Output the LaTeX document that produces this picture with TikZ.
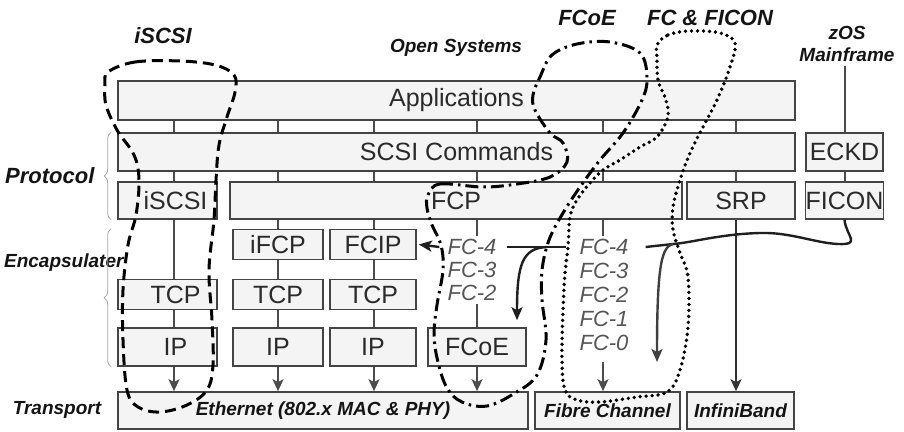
\documentclass[tikz,border=0pt]{standalone}
\usepackage{fontspec}
\setmainfont{Liberation Sans}
\usetikzlibrary{arrows.meta,calc,decorations.pathreplacing}
\definecolor{boxfill}{HTML}{F4F4F4}
\definecolor{boxline}{HTML}{444444}
\definecolor{boxtext}{HTML}{2A2A2A}
\definecolor{fcgray}{HTML}{555555}
\definecolor{linkgray}{HTML}{4C4C4C}

\begin{document}
\begin{tikzpicture}[x=1pt,y=-1pt,
    layer/.style={draw=boxline,fill=boxfill,line width=1.6pt,inner sep=0pt,text=boxtext,font=\fontsize{25}{28}\selectfont},
    tag/.style={font=\bfseries\itshape\fontsize{19}{22}\selectfont,text=black!92},
    bigtag/.style={tag,font=\bfseries\itshape\fontsize{22}{25}\selectfont},
    fclabel/.style={font=\itshape\fontsize{22}{24}\selectfont,text=fcgray,inner sep=3pt},
    tick/.style={draw=linkgray,line width=2pt},
    down/.style={tick,-{Stealth[length=12pt,width=11pt,inset=3pt]}},
    flow/.style={draw=black!88,line width=2.4pt},
    flowtip/.style={flow,-{Stealth[length=13pt,width=11pt,inset=3pt]}},
    sidebrace/.style={draw=gray!70,line width=0.8pt,decorate,decoration={brace,amplitude=7pt}},
    loop/.style={draw=black,line width=3pt}
  ]
  \useasboundingbox (0,0) rectangle (904,431);

  % columns
  \coordinate (c1) at (174,0);
  \coordinate (c2) at (278,0);
  \coordinate (c3) at (374,0);
  \coordinate (c4) at (477,0);
  \coordinate (c5) at (603,0);
  \coordinate (c6) at (736,0);
  \coordinate (ce) at (845,0);

  % layers
  \node[layer,minimum width=677,minimum height=39] (apps) at (456.5,100.5) {Applications};
  \node[layer,minimum width=677,minimum height=38] (scsi) at (456.5,152) {SCSI Commands};
  \node[layer,minimum width=99,minimum height=37] (iscsi) at (167.5,200.5) {\hspace*{16pt}iSCSI};
  \node[layer,minimum width=452,minimum height=37] (fcp) at (456,200.5) {FCP};
  \node[layer,minimum width=108,minimum height=37] (srp) at (741,200.5) {SRP};
  \node[layer,minimum width=77,minimum height=38] (eckd) at (844.5,152) {ECKD};
  \node[layer,minimum width=77,minimum height=37] (ficon) at (844.5,200.5) {FICON};

  \node[layer,minimum width=90,minimum height=30] (ifcp) at (278,244.5) {iFCP};
  \node[layer,minimum width=86,minimum height=30] (fcip) at (373,244.5) {FCIP};
  \node[layer,minimum width=99,minimum height=30] (tcp1) at (167.5,294.5) {\hspace*{16pt}TCP};
  \node[layer,minimum width=90,minimum height=30] (tcp2) at (278,294.5) {TCP};
  \node[layer,minimum width=86,minimum height=30] (tcp3) at (373,294.5) {TCP};
  \node[layer,minimum width=99,minimum height=38] (ip1) at (167.5,347) {\hspace*{16pt}IP};
  \node[layer,minimum width=90,minimum height=38] (ip2) at (278,347) {IP};
  \node[layer,minimum width=86,minimum height=38] (ip3) at (373,347) {IP};
  \node[layer,minimum width=98,minimum height=38] (fcoe) at (477,347) {FCoE};

  \node[layer,tag,minimum width=410,minimum height=37] (eth) at (323,410.5) {Ethernet (802.x MAC \& PHY)};
  \node[layer,tag,minimum width=145,minimum height=37] (fibre) at (607.5,410.5) {Fibre Channel};
  \node[layer,tag,minimum width=107,minimum height=37] (infini) at (740.5,410.5) {InfiniBand};

  % FC levels
  \node[fclabel] (fcl4) at (472,247) {FC-4};
  \node[fclabel] (fcl3) at (472,270) {FC-3};
  \node[fclabel] (fcl2) at (472,293) {FC-2};
  \node[fclabel] (fcr4) at (604,247) {FC-4};
  \node[fclabel] (fcr3) at (604,271) {FC-3};
  \node[fclabel] (fcr2) at (604,295) {FC-2};
  \node[fclabel] (fcr1) at (604,319) {FC-1};
  \node[fclabel] (fcr0) at (604,343) {FC-0};

  % side and top tags
  \node[bigtag,anchor=east] (protocol) at (98,176) {Protocol};
  \node[tag,anchor=east] (encap) at (127,263) {Encapsulater};
  \node[tag] (transport) at (57,410) {Transport};
  \node[bigtag] (tiscsi) at (163,36) {iSCSI};
  \node[tag] (open) at (456,48) {Open Systems};
  \node[bigtag] (tfcoe) at (587,18) {FCoE};
  \node[bigtag] (tfc) at (710,18) {FC \& FICON};
  \node[tag] (zos) at (847,33) {zOS};
  \node[tag] (mainframe) at (847,55) {Mainframe};

  \draw[sidebrace] ([xshift=-6pt]iscsi.south west) -- ([xshift=-6pt]scsi.north west);
  \draw[sidebrace] ([xshift=-6pt]ip1.south west) -- ([xshift=-6pt]ip1.south west |- ifcp.north);

  % ticks between layers
  \foreach \c in {c1,c2,c3,c4,c5,c6} {
    \draw[tick] (\c |- apps.south) -- (\c |- scsi.north);
    \draw[tick] (\c |- scsi.south) -- (\c |- fcp.north);
  }
  \draw[tick] (c1 |- iscsi.south) -- (c1 |- tcp1.north);
  \draw[tick] (c1 |- tcp1.south) -- (c1 |- ip1.north);
  \draw[tick] (c2 |- fcp.south) -- (ifcp.north);
  \draw[tick] (ifcp.south) -- (tcp2.north);
  \draw[tick] (tcp2.south) -- (ip2.north);
  \draw[tick] (c3 |- fcp.south) -- (c3 |- fcip.north);
  \draw[tick] (c3 |- fcip.south) -- (c3 |- tcp3.north);
  \draw[tick] (c3 |- tcp3.south) -- (c3 |- ip3.north);
  \draw[tick] (c4 |- fcp.south) -- (c4 |- fcl4.north);
  \draw[tick] (c4 |- fcl2.south) -- (fcoe.north);
  \draw[tick] (c5 |- fcp.south) -- (c5 |- fcr4.north);
  \draw[tick] (ce |- mainframe.south) -- (ce |- eckd.north);
  \draw[tick] (ce |- eckd.south) -- (ce |- ficon.north);

  \draw[down] (c1 |- ip1.south) -- (c1 |- eth.north);
  \draw[down] (c2 |- ip2.south) -- (c2 |- eth.north);
  \draw[down] (c3 |- ip3.south) -- (c3 |- eth.north);
  \draw[down] (fcoe.south) -- (fcoe.south |- eth.north);
  \draw[down] ([yshift=-8pt]c5 |- fcr0.south) -- (c5 |- fibre.north);
  \draw[down,draw=black!80] (c6 |- srp.south) -- (c6 |- infini.north);

  % FC-4 mappings
  \coordinate (split1) at (547,247);
  \coordinate (split2) at (673,244);
  \coordinate (fcoetip) at ([xshift=40pt,yshift=7pt]fcoe.north);
  \coordinate (fctip) at (657,362);
  \draw[flow] ([xshift=-10pt]fcr4.west) -- ([xshift=7pt]fcl4.east);
  \draw[flowtip] ([xshift=-5pt]fcl4.west) -- ([xshift=2pt]fcip.east);
  \draw[flowtip] (split1) .. controls (522,248) and (517,265) .. (fcoetip);
  \draw[flow] (ficon.south) .. controls (846,236) and (862,245) .. (838,244)
    .. controls (815,243) and (790,232) .. (760,233)
    .. controls (720,234) and (690,243) .. (split2) -- ([xshift=14pt]fcr4.east);
  \draw[flowtip,draw=black!75] (split2) .. controls (662,247) and (657,262) .. (fctip);

  % groupings
  \draw[loop,dash pattern=on 11pt off 6pt] plot[smooth cycle,tension=0.6] coordinates {
    (108,72) (135,62) (180,61) (215,65) (234,75) (235,92) (227,117) (219,145)
    (216,180) (214,220) (209,270) (212,320) (213,365) (207,390) (187,405)
    (160,412) (138,407) (127,390) (123,340) (123,290) (128,245) (136,215)
    (139,180) (134,155) (117,130) (106,105) (105,85)};
  \draw[loop,dash pattern=on 13pt off 5pt on 2.5pt off 5pt] plot[smooth cycle,tension=0.6] coordinates {
    (428,195) (440,184) (483,187) (517,184) (550,177) (567,162) (563,143) (550,133)
    (535,110) (533,95) (540,77) (552,55) (577,44) (610,42) (640,53) (647,78)
    (642,100) (623,133) (600,160) (580,187) (563,213) (549,240) (542,270)
    (542,300) (546,340) (537,375) (515,393) (487,406) (462,402) (447,388)
    (438,362) (434,335) (437,305) (443,270) (441,245) (432,225) (427,208)};
  \draw[loop,line width=3.8pt,line cap=round,dash pattern=on 0pt off 6pt] plot[smooth cycle,tension=0.6] coordinates {
    (657,45) (668,35) (690,31) (720,33) (735,43) (730,67) (717,100) (703,127)
    (690,153) (680,180) (673,207) (673,230) (680,253) (688,277) (688,327)
    (680,370) (667,392) (637,397) (600,402) (577,400) (565,390) (562,360)
    (563,310) (565,273) (568,247) (570,217) (577,200) (590,183) (603,170)
    (620,160) (640,147) (657,137) (667,120) (668,110) (665,97) (658,80) (657,57)};
\end{tikzpicture}
\end{document}
